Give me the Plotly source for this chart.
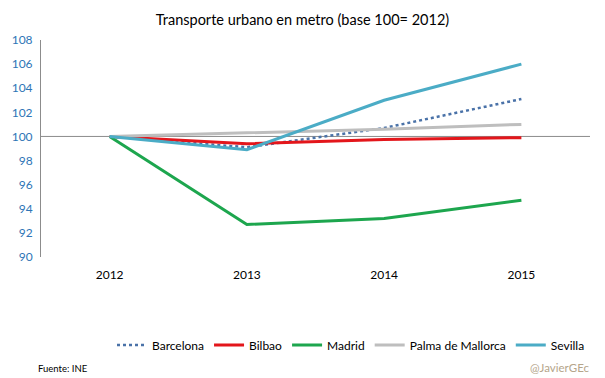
import plotly.graph_objects as go

years = ["2012", "2013", "2014", "2015"]
barcelona = [100, 99.1, 100.7, 103.1]
bilbao = [100, 99.4, 99.75, 99.9]
madrid = [100, 92.7, 93.2, 94.7]
palma = [100, 100.3, 100.6, 101.0]
sevilla = [100, 98.9, 103.0, 106.0]
y_ticks = [90, 92, 94, 96, 98, 100, 102, 104, 106, 108]

FONT = "Lato, 'Open Sans', sans-serif"

fig = go.Figure()
series = [
    ("Barcelona", barcelona, "#4A72A8", "dot", 2.5),
    ("Bilbao", bilbao, "#E3161B", "solid", 3),
    ("Madrid", madrid, "#1DA64E", "solid", 3),
    ("Palma de Mallorca", palma, "#BEBEBE", "solid", 3),
    ("Sevilla", sevilla, "#4BACC6", "solid", 3),
]
for name, vals, color, dash, w in series:
    fig.add_trace(go.Scatter(x=years, y=vals, name=name, mode="lines",
                             line=dict(color=color, dash=dash, width=w)))

fig.add_shape(type="line", xref="paper", yref="y", x0=0, x1=1, y0=100, y1=100,
              line=dict(color="#8C8C8C", width=1), layer="below")

fig.update_layout(
    width=605, height=378,
    margin=dict(l=35, r=15, t=40, b=121),
    paper_bgcolor="white", plot_bgcolor="white",
    font=dict(family=FONT, size=12, color="#000000"),
    title=dict(text="Transporte urbano en metro (base 100= 2012)", x=0.5, xanchor="center",
               y=1 - 20/378, yanchor="middle", font=dict(size=14.5, family=FONT, color="#000")),
    xaxis=dict(type="category", range=[-0.5, 3.5], showgrid=False, showline=False, zeroline=False,
               ticks="", tickfont=dict(size=12, color="#000"), ticklabelstandoff=9),
    yaxis=dict(range=[90, 108], tickvals=y_ticks, showgrid=False, zeroline=False,
               showline=True, linecolor="#8C8C8C", linewidth=1, ticks="",
               tickfont=dict(size=12, color="#2E75B6"), ticklabelstandoff=5),
    legend=dict(orientation="h", x=1.0, xanchor="right", y=-88/217, yanchor="middle",
                font=dict(size=12, color="#000"), itemwidth=30, tracegroupgap=0,
                bgcolor="rgba(0,0,0,0)"),
    showlegend=True,
    annotations=[
        dict(text="Fuente: INE", xref="paper", yref="paper", x=(30-35)/555, y=-(368-257)/217,
             xanchor="left", yanchor="middle", showarrow=False, font=dict(size=9.5, color="#000")),
        dict(text="@JavierGEc", xref="paper", yref="paper", x=(592-35)/555, y=-(367-257)/217,
             xanchor="right", yanchor="middle", showarrow=False, font=dict(size=11.5, color="#B5A58A")),
    ],
)

fig.write_html("out.html", config={"displayModeBar": False},
               post_script="document.body.style.margin='0';document.body.style.padding='0';document.body.style.overflow='hidden';")
